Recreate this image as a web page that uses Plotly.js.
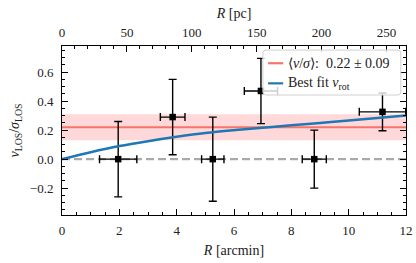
<!DOCTYPE html>
<html>
<head>
<meta charset="utf-8">
<script src="https://cdn.plot.ly/plotly-3.0.1.min.js"></script>
<style>
html,body{margin:0;padding:0;background:#fff;}
#chart{width:416px;height:263px;}
</style>
</head>
<body>
<div id="chart"></div>
<script>
// Binned measurements
const R_arcmin = [1.96, 3.86, 5.26, 6.94, 8.80, 11.18];
const R_arcmin_err = [0.65, 0.43, 0.39, 0.58, 0.42, 0.81];
const vsig = [0.00, 0.29, 0.00, 0.47, 0.00, 0.326];
const vsig_err = [0.26, 0.26, 0.29, 0.225, 0.20, 0.13];

// Mean rotation-to-dispersion ratio
const meanVsig = 0.22;
const meanVsigErr = 0.09;

// Best-fit rotation curve
const fitR = [0, 1, 2, 3, 4, 5, 6, 7, 8, 9, 10, 11, 12];
const fitV = [0.0, 0.048, 0.09, 0.124, 0.154, 0.18, 0.2, 0.217, 0.233, 0.249, 0.266, 0.284, 0.301];

// Axis ranges
const xRange = [0, 12];
const pcRange = [0, 265];
const yRange = [-0.385, 0.78];

// Legend labels
const legendLabels = [
  '⟨<i>v</i>/<i>σ</i>⟩:  ' + meanVsig.toFixed(2) + ' ± ' + meanVsigErr.toFixed(2),
  'Best fit <i>v</i><sub>rot</sub>'
];

const FONT = 'Liberation Serif';
const RED = '#f7736b';
const BLUE = '#1f77b4';

const traces = [
  {
    x: xRange, y: [meanVsig, meanVsig], mode: 'lines',
    line: {color: RED, width: 1.8}, name: legendLabels[0],
    showlegend: false, hoverinfo: 'skip'
  },
  {
    x: xRange, y: [0, 0], mode: 'lines',
    line: {color: '#aaaaaa', width: 2.2, dash: '8px,4px'},
    showlegend: false, hoverinfo: 'skip'
  },
  {
    x: R_arcmin, y: vsig, mode: 'markers', type: 'scatter',
    marker: {symbol: 'square', size: 6.5, color: 'black'},
    error_x: {type: 'data', array: R_arcmin_err, color: 'black', thickness: 1.4, width: 4},
    error_y: {type: 'data', array: vsig_err, color: 'black', thickness: 1.4, width: 4},
    showlegend: false, cliponaxis: true
  },
  {
    x: fitR, y: fitV, mode: 'lines',
    line: {color: BLUE, width: 2.5, shape: 'spline'},
    name: legendLabels[1], showlegend: false
  },
  {
    x: pcRange, y: [null, null], xaxis: 'x2', yaxis: 'y', mode: 'lines',
    showlegend: false, hoverinfo: 'skip'
  }
];

const axisCommon = {
  showgrid: false, zeroline: false, showline: true, linecolor: 'black', linewidth: 1,
  ticks: 'inside', ticklen: 6, tickwidth: 1, tickcolor: 'black',
  tickfont: {family: FONT, size: 13, color: '#222'},
};

// Manual legend geometry (paper coordinates)
const lgX0 = 0.584, lgX1 = 0.985, lgY0 = 0.71, lgY1 = 0.976, rx = 0.009, ry = 0.018;
const roundedBox = `M ${lgX0 + rx},${lgY1} L ${lgX1 - rx},${lgY1} Q ${lgX1},${lgY1} ${lgX1},${lgY1 - ry} ` +
  `L ${lgX1},${lgY0 + ry} Q ${lgX1},${lgY0} ${lgX1 - rx},${lgY0} L ${lgX0 + rx},${lgY0} ` +
  `Q ${lgX0},${lgY0} ${lgX0},${lgY0 + ry} L ${lgX0},${lgY1 - ry} Q ${lgX0},${lgY1} ${lgX0 + rx},${lgY1} Z`;
const rowY = [0.898, 0.779];
const rowColors = [RED, BLUE];

const shapes = [
  {
    type: 'rect', xref: 'paper', yref: 'y', x0: 0, x1: 1,
    y0: meanVsig - meanVsigErr, y1: meanVsig + meanVsigErr,
    fillcolor: 'rgba(255,0,0,0.15)', line: {width: 0}, layer: 'below'
  },
  {
    type: 'path', xref: 'paper', yref: 'paper', path: roundedBox,
    fillcolor: 'rgba(255,255,255,0.8)', line: {color: '#d0d0d0', width: 1}, layer: 'above'
  }
];
rowY.forEach((y, i) => shapes.push({
  type: 'line', xref: 'paper', yref: 'paper', x0: 0.599, x1: 0.643, y0: y, y1: y,
  line: {color: rowColors[i], width: 2.2}, layer: 'above'
}));

const annotations = legendLabels.map((t, i) => ({
  xref: 'paper', yref: 'paper', x: 0.652, y: rowY[i], xanchor: 'left', yanchor: 'middle',
  text: t, showarrow: false, font: {family: FONT, size: 14, color: '#222'}
}));

const layout = {
  width: 416, height: 263,
  margin: {l: 62, r: 10, t: 46, b: 48},
  paper_bgcolor: 'white', plot_bgcolor: 'white',
  font: {family: FONT, size: 13, color: '#222'},
  xaxis: Object.assign({}, axisCommon, {
    range: xRange, dtick: 2, tick0: 0, mirror: false,
    minor: {dtick: 0.5, ticklen: 3, ticks: 'inside', tickcolor: 'black'},
    ticklabelstandoff: 3,
    title: {text: '<i>R</i> [arcmin]', font: {family: FONT, size: 14}, standoff: 8}
  }),
  xaxis2: Object.assign({}, axisCommon, {
    range: pcRange, dtick: 50, tick0: 0, overlaying: 'x', side: 'top', anchor: 'y',
    minor: {dtick: 10, ticklen: 3, ticks: 'inside', tickcolor: 'black'},
    ticklabelstandoff: 3,
    title: {text: '<i>R</i> [pc]', font: {family: FONT, size: 14}, standoff: 2}
  }),
  yaxis: Object.assign({}, axisCommon, {
    range: yRange, dtick: 0.2, tick0: 0, tickformat: '.1f', mirror: 'ticks',
    minor: {dtick: 0.05, ticklen: 3, ticks: 'inside', tickcolor: 'black'},
    ticklabelstandoff: 5,
    title: {text: '<i>v</i><sub>LOS</sub>/<i>σ</i><sub>LOS</sub>', font: {family: FONT, size: 14}, standoff: 6}
  }),
  shapes: shapes,
  annotations: annotations,
  showlegend: false
};

Plotly.newPlot('chart', traces, layout, {displayModeBar: false, staticPlot: true});
</script>
</body>
</html>
